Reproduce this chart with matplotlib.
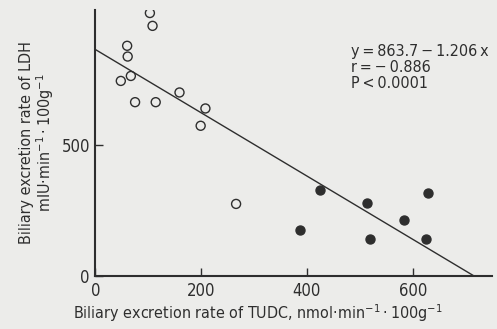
import matplotlib
matplotlib.use("Agg")
import matplotlib.pyplot as plt
import numpy as np

# Data
open_x = [103, 108, 60, 61, 67, 48, 75, 114, 159, 208, 199, 266]
open_y = [1003, 954, 878, 837, 763, 744, 663, 663, 700, 639, 573, 275]
filled_x = [425, 386, 514, 520, 583, 628, 626]
filled_y = [328, 176, 280, 140, 214, 318, 140]
intercept = 863.7
slope = -1.206
x_ticks = [0, 200, 400, 600]
y_ticks = [0, 500]

plt.rcParams['font.family'] = ['DejaVu Sans']
plt.rcParams['font.stretch'] = 'condensed'
ink = '#2e2e2e'
bg = '#ececea'

fig = plt.figure(figsize=(4.97, 3.29), dpi=100, facecolor=bg)
ax = fig.add_axes([0.192, 0.161, 0.798, 0.809])
ax.set_facecolor(bg)

ax.scatter(open_x, open_y, s=42, facecolors='none', edgecolors=ink, linewidths=1.0, zorder=3)
ax.scatter(filled_x, filled_y, s=42, facecolors=ink, edgecolors=ink, linewidths=1.0, zorder=3)

x_end = -intercept / slope
xl = np.array([0, x_end])
ax.plot(xl, intercept + slope * xl, color=ink, lw=1.0)

ax.set_xlim(0, 750)
ax.set_ylim(0, 1015)
for s in ['top', 'right']:
    ax.spines[s].set_visible(False)
for s in ['left', 'bottom']:
    ax.spines[s].set_color(ink)
    ax.spines[s].set_linewidth(1.5)

ax.set_xticks(x_ticks)
ax.set_yticks(y_ticks)
ax.tick_params(direction='in', length=6, width=1.0, colors=ink, labelsize=12, pad=4)

ax.set_xlabel('Biliary excretion rate of TUDC, nmol$\\cdot$min$^{-1}\\cdot$100g$^{-1}$',
              fontsize=11.5, color=ink, labelpad=2)
ax.xaxis.set_label_coords(0.41, -0.1)
ax.set_ylabel('Biliary excretion rate of LDH\nmIU$\\cdot$min$^{-1}\\cdot$100g$^{-1}$',
              fontsize=11.5, color=ink, labelpad=4, linespacing=1.0)

ax.text(0.645, 0.87,
        'y\u2009=\u2009863.7\u2009−\u20091.206\u2009x\nr\u2009=\u2009−\u20090.886\nP\u2009<\u20090.0001',
        transform=ax.transAxes, ha='left', va='top', fontsize=11.5, color=ink,
        linespacing=1.05)

fig.savefig('out.png', dpi=100, facecolor=bg)
